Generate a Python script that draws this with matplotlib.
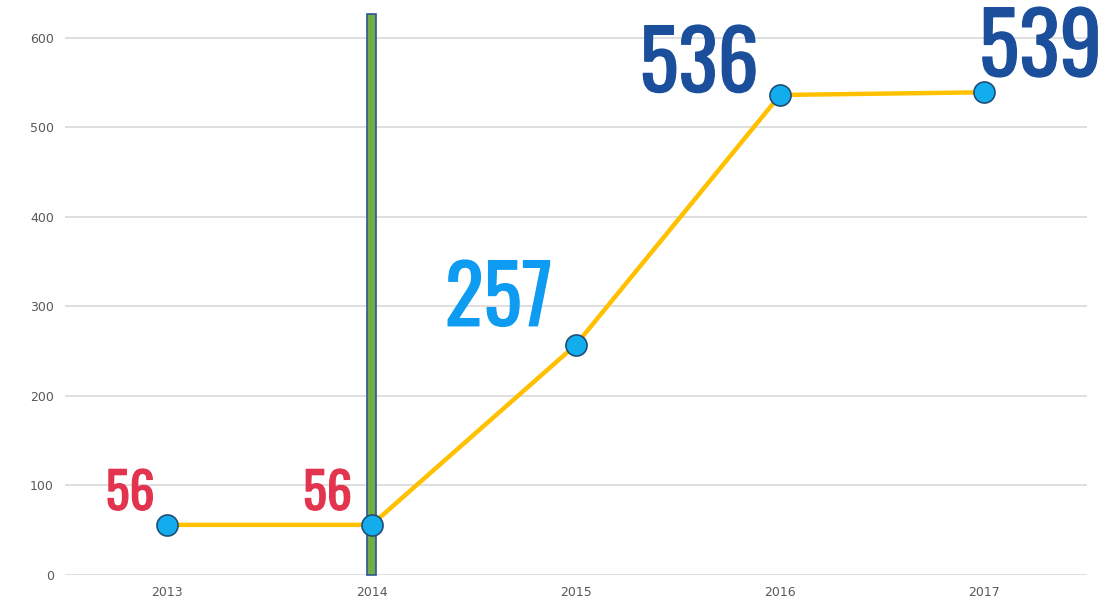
import matplotlib.pyplot as plt
import matplotlib.patheffects as pe
from matplotlib import font_manager

years = ["2013", "2014", "2015", "2016", "2017"]
values = [56, 56, 257, 536, 539]
label_colors = ["#E2344E", "#E2344E", "#0E9CF2", "#1B4F9C", "#1B4F9C"]
label_sizes = [36, 36, 58, 59, 61]
# offsets of each value label from its point, in pixels
label_offsets = [(-37, 15), (-44, 15), (-77, 19), (-81, 3), (56, 16)]
yticks = [0, 100, 200, 300, 400, 500, 600]
marker_year = "2014"
marker_height = 626

names = {f.name for f in font_manager.fontManager.ttflist}
candidates = ["Oswald", "Roboto Condensed", "Barlow Condensed",
              "Liberation Sans Narrow", "DejaVu Sans"]
label_font = next(c for c in candidates if c in names or c == "DejaVu Sans")

fig = plt.figure(figsize=(11.08, 6.13), dpi=100)
ax = fig.add_axes([0.0587, 0.062, 0.922, 0.935])

ax.set_xlim(-0.5, len(years) - 0.5)
ax.set_ylim(0, 640)
ax.set_yticks(yticks)
ax.set_xticks(range(len(years)))
ax.set_xticklabels(years)
ax.grid(axis="y", color="#D9D9D9", linewidth=1.2)
ax.set_axisbelow(True)
for s in ax.spines.values():
    s.set_visible(False)
ax.tick_params(length=0, colors="#595959", labelsize=9, pad=8)

# vertical green bar at 2014
i = years.index(marker_year)
ax.bar(i, marker_height, width=0.04, color="#70AD47", edgecolor="#2F5597",
       linewidth=1.2, zorder=3, clip_on=False)

ax.plot(range(len(years)), values, color="#FFC000", linewidth=3.2, zorder=2)
ax.scatter(range(len(years)), values, s=230, color="#13ADEE", edgecolor="#1F4E79",
           linewidth=1.2, zorder=4)

for k, v in enumerate(values):
    ax.annotate(str(v), (k, v), xytext=label_offsets[k], textcoords="offset pixels",
                ha="center", va="baseline", fontsize=label_sizes[k],
                color=label_colors[k], fontfamily=label_font,
                path_effects=[pe.withStroke(linewidth=0.9, foreground=label_colors[k])],
                zorder=5, annotation_clip=False)

fig.savefig("out.png", dpi=100)
